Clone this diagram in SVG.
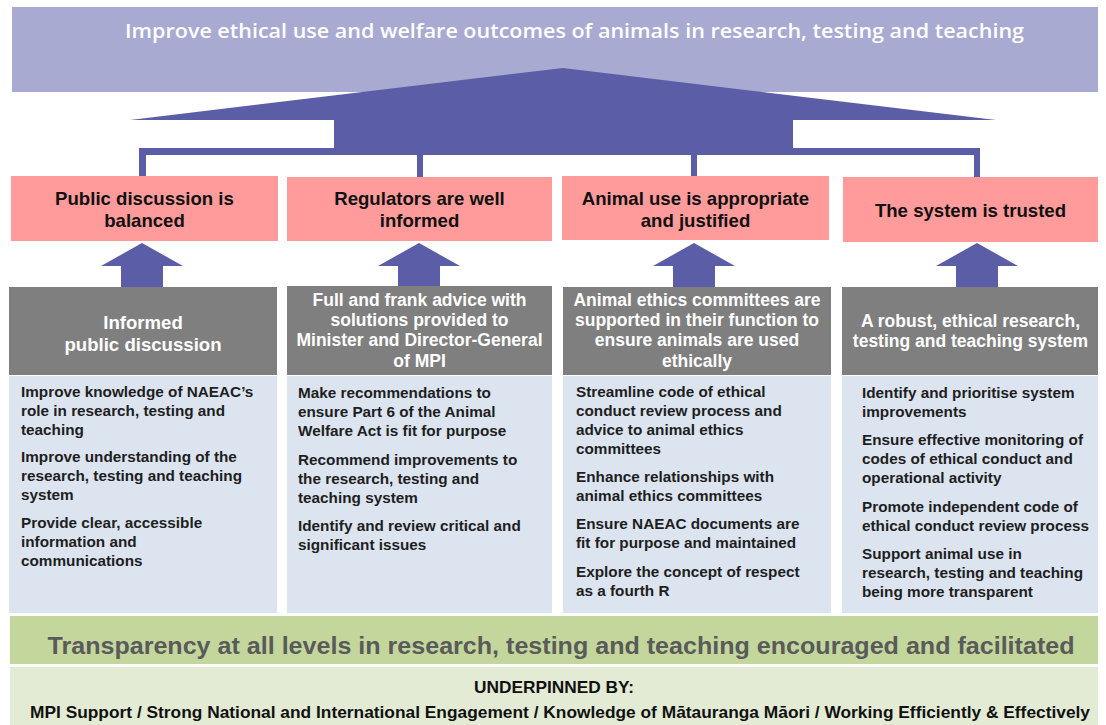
<svg xmlns="http://www.w3.org/2000/svg" width="1106" height="725" viewBox="0 0 1106 725">
<style>
.bg{fill:#ffffff}
.banner{fill:#a9aad1}
.conn{fill:#5b5ea6}
.pink{fill:#ff9b9b}
.gray{fill:#7f7f7f}
.blue{fill:#dce4f0}
.green{fill:#c3d69b}
.lgreen{fill:#e3ebd5}
.title{font-family:"Open Sans","Liberation Sans",sans-serif;font-weight:600;font-size:19.5px;fill:#ffffff}
.pt{font-family:"Liberation Sans",Arial,sans-serif;font-weight:bold;font-size:18.6px;fill:#111111;text-anchor:middle}
.gt{font-family:"Liberation Sans",Arial,sans-serif;font-weight:bold;font-size:17.5px;fill:#ffffff;text-anchor:middle}
.gt1{font-size:18.6px}
.bt{font-family:"Liberation Sans",Arial,sans-serif;font-weight:bold;font-size:15.3px;fill:#1e1e1e}
.tr{font-family:"Liberation Sans",Arial,sans-serif;font-weight:bold;font-size:24.8px;fill:#5a5a5a;text-anchor:middle}
.ub{font-family:"Liberation Sans",Arial,sans-serif;font-weight:bold;font-size:17.3px;fill:#111111;text-anchor:middle}
</style>
<rect class="bg" x="0" y="0" width="1106" height="725"/>

<g id="goal">
<rect class="banner" x="12" y="7" width="1086" height="85"/>
</g>

<g id="connectors">
<path class="conn" d="M130,120 L563,68 L996,120 L793,120 L793,148 L980,148 L980,177 L974,177 L974,155 L697,155 L697,177 L691,177 L691,155 L423,155 L423,177 L417,177 L417,155 L146,155 L146,177 L139,177 L139,148 L334,148 L334,120 Z"/>
<path class="conn" d="M142,243 L183,266 L163,266 L163,288 L121,288 L121,266 L101,266 Z"/>
<path class="conn" d="M419,243 L460,266 L440,266 L440,288 L398,288 L398,266 L378,266 Z"/>
<path class="conn" d="M694,243 L735,266 L715,266 L715,288 L673,288 L673,266 L653,266 Z"/>
<path class="conn" d="M977,243 L1018,266 L998,266 L998,288 L956,288 L956,266 L936,266 Z"/>
</g>

<g id="goal-text">
<text class="title" x="125" y="38" textLength="899" lengthAdjust="spacingAndGlyphs">Improve ethical use and welfare outcomes of animals in research, testing and teaching</text>
</g>

<g id="outcome1">
<rect class="pink" x="11" y="176" width="267" height="65"/>
<text class="pt" x="144.5" y="205">Public discussion is</text>
<text class="pt" x="144.5" y="227">balanced</text>
</g>
<g id="outcome2">
<rect class="pink" x="287" y="177" width="265" height="64"/>
<text class="pt" x="419.5" y="205">Regulators are well</text>
<text class="pt" x="419.5" y="227">informed</text>
</g>
<g id="outcome3">
<rect class="pink" x="562" y="176" width="267" height="64"/>
<text class="pt" x="695.5" y="205">Animal use is appropriate</text>
<text class="pt" x="695.5" y="227">and justified</text>
</g>
<g id="outcome4">
<rect class="pink" x="843" y="177" width="255" height="65"/>
<text class="pt" x="970.5" y="217">The system is trusted</text>
</g>

<g id="output1">
<rect class="gray" x="9" y="287" width="268" height="88"/>
<text class="gt gt1" x="143" y="329">Informed</text>
<text class="gt gt1" x="143" y="351">public discussion</text>
</g>
<g id="output2">
<rect class="gray" x="287" y="286" width="265" height="89"/>
<text class="gt" x="419.5" y="306">Full and frank advice with</text>
<text class="gt" x="419.5" y="326">solutions provided to</text>
<text class="gt" x="419.5" y="346">Minister and Director-General</text>
<text class="gt" x="419.5" y="367">of MPI</text>
</g>
<g id="output3">
<rect class="gray" x="563" y="287" width="268" height="88"/>
<text class="gt" x="697" y="306">Animal ethics committees are</text>
<text class="gt" x="697" y="326">supported in their function to</text>
<text class="gt" x="697" y="346">ensure animals are used</text>
<text class="gt" x="697" y="367">ethically</text>
</g>
<g id="output4">
<rect class="gray" x="842" y="287" width="256" height="88"/>
<text class="gt" x="970.5" y="327">A robust, ethical research,</text>
<text class="gt" x="970.5" y="347">testing and teaching system</text>
</g>

<g id="activities1">
<rect class="blue" x="9" y="376" width="268" height="237"/>
<text class="bt" x="21" y="397">Improve knowledge of NAEAC’s</text>
<text class="bt" x="21" y="416">role in research, testing and</text>
<text class="bt" x="21" y="435">teaching</text>
<text class="bt" x="21" y="462">Improve understanding of the</text>
<text class="bt" x="21" y="481">research, testing and teaching</text>
<text class="bt" x="21" y="500">system</text>
<text class="bt" x="21" y="528">Provide clear, accessible</text>
<text class="bt" x="21" y="547">information and</text>
<text class="bt" x="21" y="566">communications</text>
</g>
<g id="activities2">
<rect class="blue" x="287" y="376" width="265" height="237"/>
<text class="bt" x="298" y="398">Make recommendations to</text>
<text class="bt" x="298" y="417">ensure Part 6 of the Animal</text>
<text class="bt" x="298" y="436">Welfare Act is fit for purpose</text>
<text class="bt" x="298" y="465">Recommend improvements to</text>
<text class="bt" x="298" y="484">the research, testing and</text>
<text class="bt" x="298" y="503">teaching system</text>
<text class="bt" x="298" y="531">Identify and review critical and</text>
<text class="bt" x="298" y="550">significant issues</text>
</g>
<g id="activities3">
<rect class="blue" x="563" y="376" width="268" height="237"/>
<text class="bt" x="576" y="396.5">Streamline code of ethical</text>
<text class="bt" x="576" y="415.5">conduct review process and</text>
<text class="bt" x="576" y="434.5">advice to animal ethics</text>
<text class="bt" x="576" y="453.5">committees</text>
<text class="bt" x="576" y="481.5">Enhance relationships with</text>
<text class="bt" x="576" y="500.5">animal ethics committees</text>
<text class="bt" x="576" y="528.5">Ensure NAEAC documents are</text>
<text class="bt" x="576" y="547.5">fit for purpose and maintained</text>
<text class="bt" x="576" y="576.5">Explore the concept of respect</text>
<text class="bt" x="576" y="595.5">as a fourth R</text>
</g>
<g id="activities4">
<rect class="blue" x="842" y="376" width="256" height="237"/>
<text class="bt" x="862" y="397.5">Identify and prioritise system</text>
<text class="bt" x="862" y="416.5">improvements</text>
<text class="bt" x="862" y="444.5">Ensure effective monitoring of</text>
<text class="bt" x="862" y="463.5">codes of ethical conduct and</text>
<text class="bt" x="862" y="482.5">operational activity</text>
<text class="bt" x="862" y="511.5">Promote independent code of</text>
<text class="bt" x="862" y="530.5">ethical conduct review process</text>
<text class="bt" x="862" y="558.5">Support animal use in</text>
<text class="bt" x="862" y="577.5">research, testing and teaching</text>
<text class="bt" x="862" y="596.5">being more transparent</text>
</g>

<g id="transparency">
<rect class="green" x="10" y="616" width="1088" height="48"/>
<text class="tr" x="561" y="653.5" textLength="1027" lengthAdjust="spacingAndGlyphs">Transparency at all levels in research, testing and teaching encouraged and facilitated</text>
</g>

<g id="underpinned">
<rect class="lgreen" x="10" y="667" width="1088" height="58"/>
<text class="ub" x="554" y="693">UNDERPINNED BY:</text>
<text class="ub" x="560" y="718" textLength="1060" lengthAdjust="spacingAndGlyphs">MPI Support / Strong National and International Engagement / Knowledge of Mātauranga Māori / Working Efficiently &amp; Effectively</text>
</g>
</svg>
